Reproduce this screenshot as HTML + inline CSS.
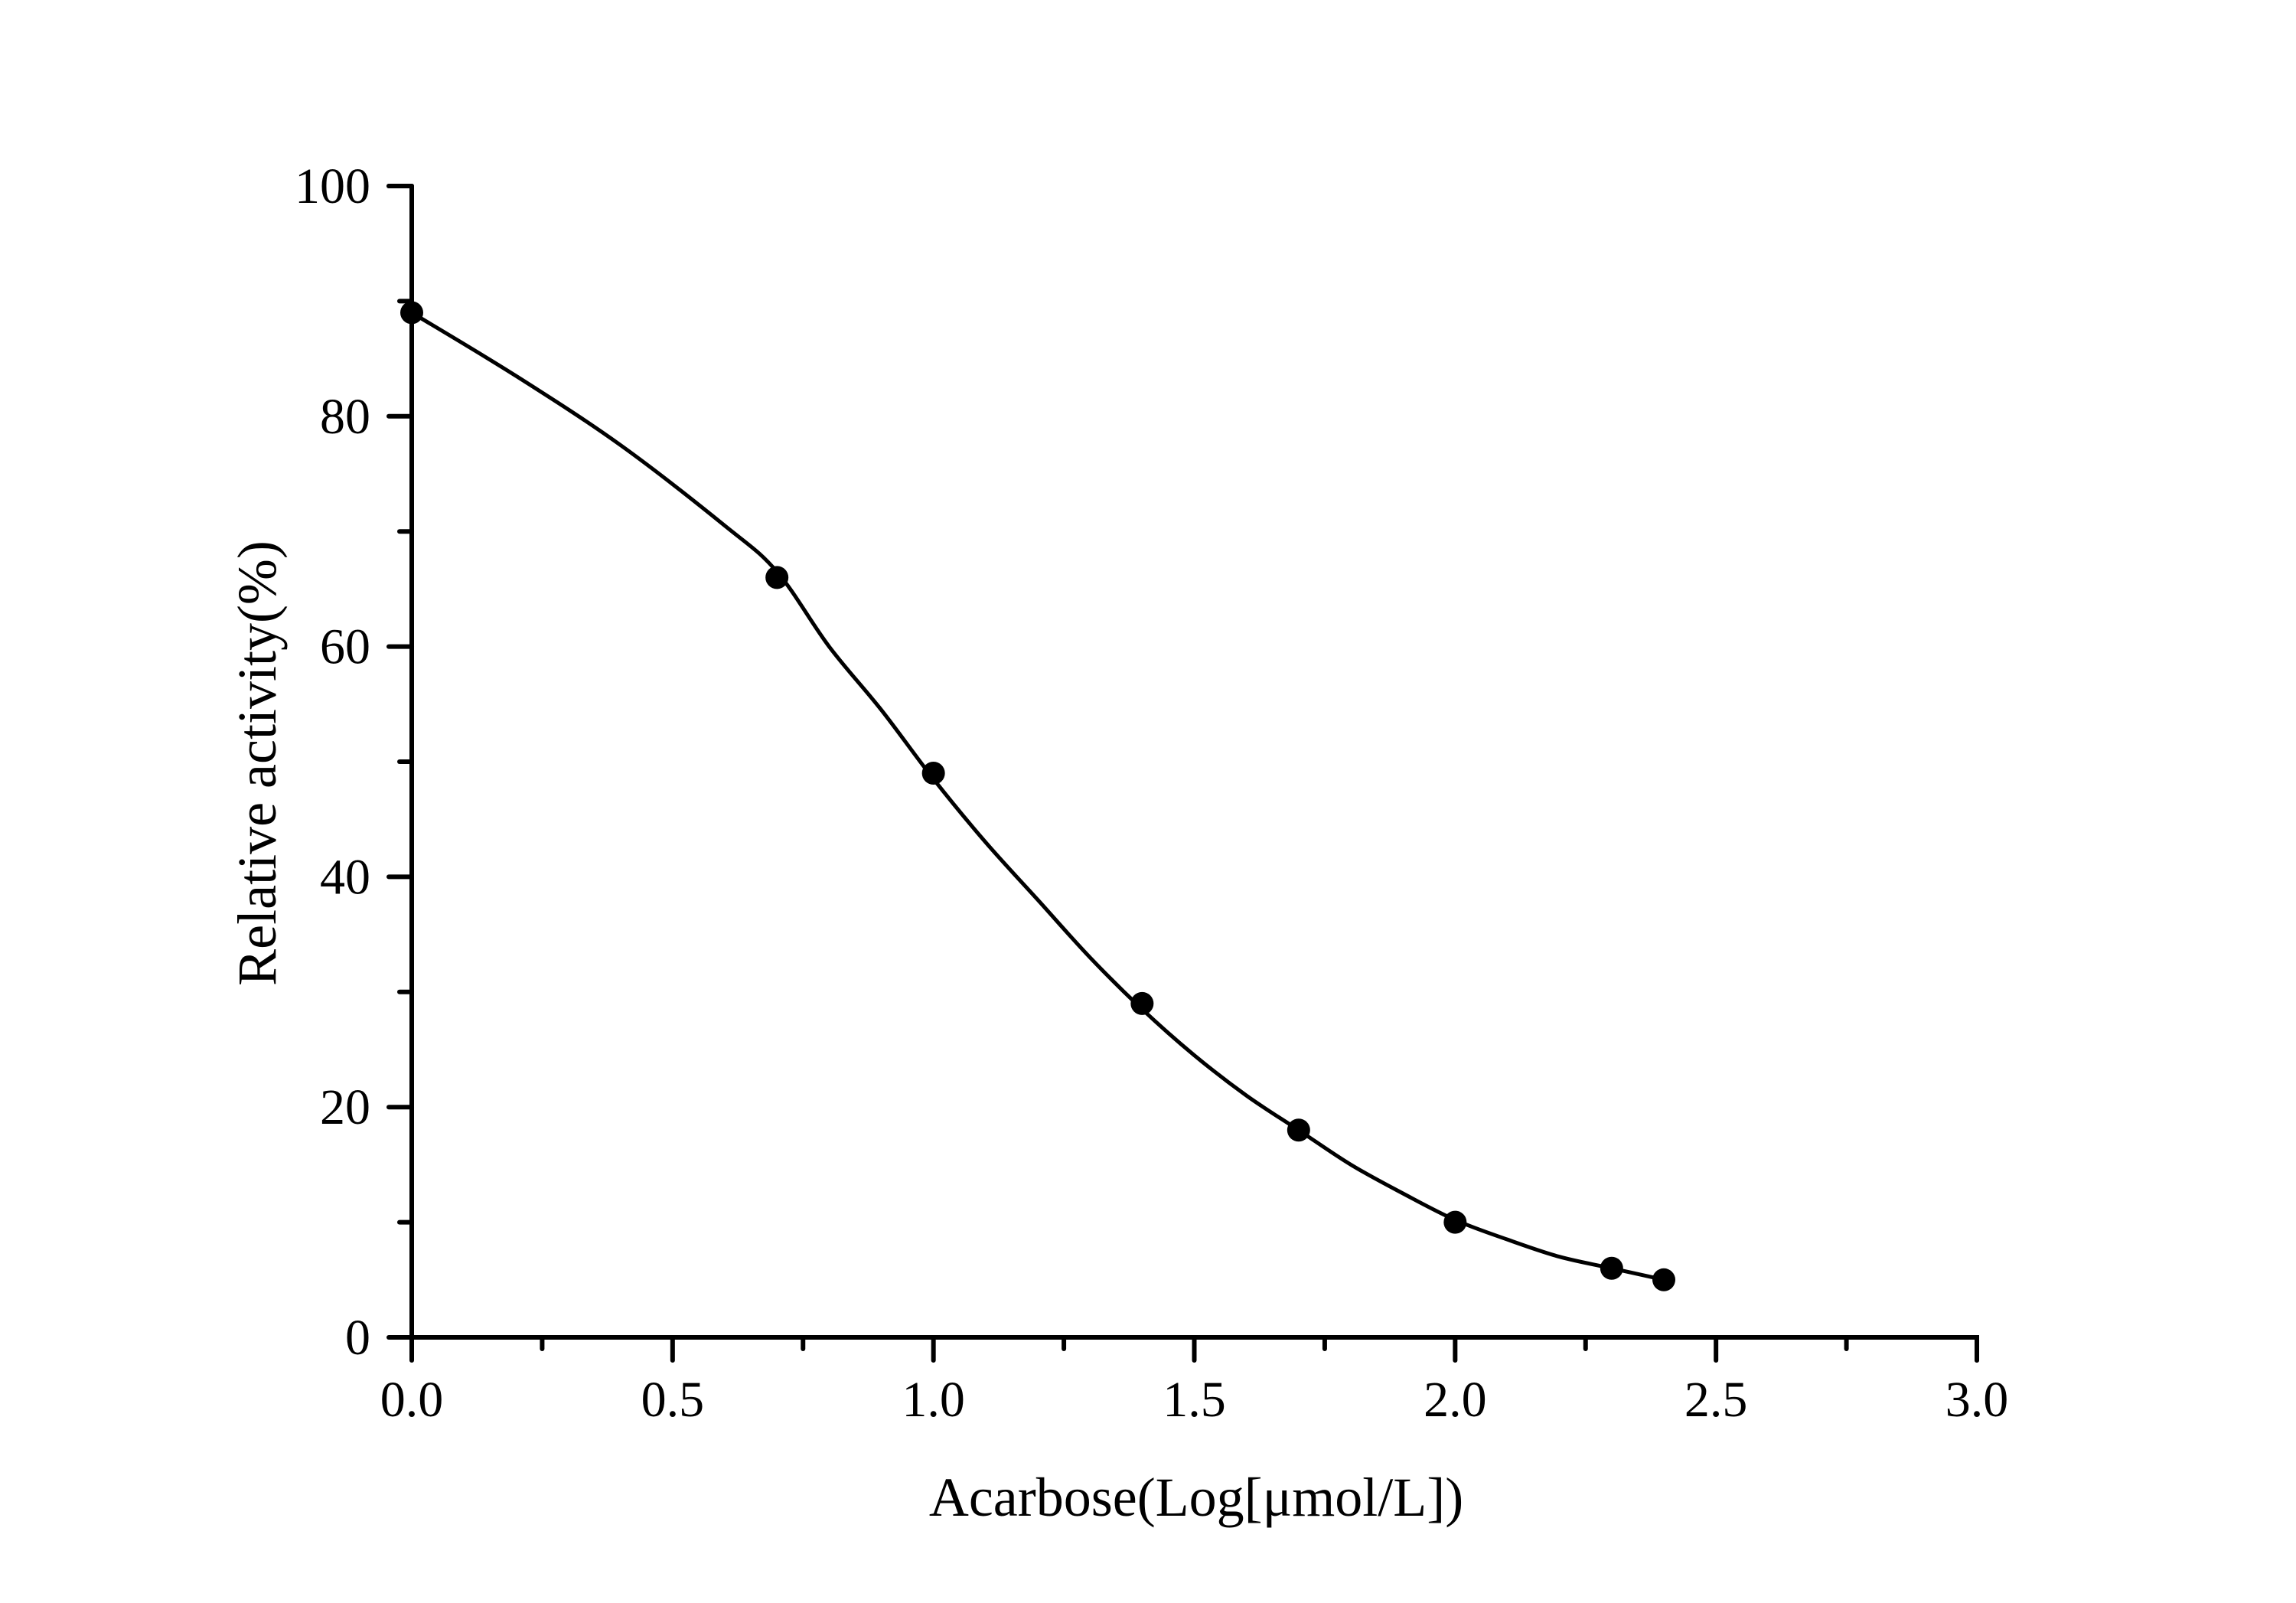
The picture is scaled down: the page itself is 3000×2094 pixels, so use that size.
<!DOCTYPE html>
<html><head><meta charset="utf-8"><style>
html,body{margin:0;padding:0;background:#fff;}
svg{display:block;font-family:"Liberation Serif",serif;}
</style></head><body>
<svg id="chart" width="3000" height="2094" viewBox="0 0 3000 2094" xmlns="http://www.w3.org/2000/svg">
<rect width="3000" height="2094" fill="#fff"/>
<g id="axes"></g>
<g id="plot"></g>
<text x="1563" y="1980" font-size="72" text-anchor="middle">Acarbose(Log[μmol/L])</text>
<text transform="translate(360,997) rotate(-90)" font-size="72" text-anchor="middle">Relative activity(%)</text>
</svg>
<script>
const pointX = [0, 0.7, 1.0, 1.4, 1.7, 2.0, 2.3, 2.4];
const pointY = [89, 66, 49, 29, 18, 10, 6, 5];
const curveX = [0, 0.2, 0.4, 0.6, 0.7, 0.8, 0.9, 1.0, 1.1, 1.2, 1.3, 1.4, 1.5, 1.6, 1.7, 1.8, 1.9, 2.0, 2.1, 2.2, 2.3, 2.4];
const curveY = [89, 83.5, 77.5, 70.5, 66.5, 60, 54.5, 48.5, 43, 38, 33, 28.5, 24.5, 21, 18, 15, 12.5, 10.2, 8.5, 7, 6, 5];
const xTicks = [0, 0.5, 1.0, 1.5, 2.0, 2.5, 3.0];
const xTickLabels = ["0.0", "0.5", "1.0", "1.5", "2.0", "2.5", "3.0"];
const yTicks = [0, 20, 40, 60, 80, 100];
const yTickLabels = ["0", "20", "40", "60", "80", "100"];

const X0 = 538, X1 = 2583, Y0 = 1747, Y1 = 243;
const xs = v => X0 + (v - 0) / 3 * (X1 - X0);
const ys = v => Y0 - (v - 0) / 100 * (Y0 - Y1);
const NS = "http://www.w3.org/2000/svg";
function mk(tag, attrs, parent) {
  const e = document.createElementNS(NS, tag);
  for (const k in attrs) e.setAttribute(k, attrs[k]);
  parent.appendChild(e);
  return e;
}
const axes = document.getElementById('axes');
const plot = document.getElementById('plot');
const st = {stroke: '#000', 'stroke-width': 6, 'stroke-linecap': 'round', fill: 'none'};

let a = mk('path', Object.assign({d: `M${X0},${Y1} L${X0},${Y0} L${X1},${Y0} L${X1},${Y0 + 30}`}, st), axes);


let t = mk('line', Object.assign({x1: X0 - 30, y1: Y1, x2: X0, y2: Y1}, st), axes);



xTicks.forEach((v, i) => {
  const x = xs(v);
  const l = mk('line', Object.assign({x1: x, y1: Y0, x2: x, y2: Y0 + 30}, st), axes);
  
  
  if (i < xTicks.length - 1) {
    const m = xs(v + 0.25);
    const ml = mk('line', Object.assign({x1: m, y1: Y0, x2: m, y2: Y0 + 15}, st), axes);
    
    
  }
  const tx = mk('text', {x: x, y: 1850, 'font-size': 66, 'text-anchor': 'middle'}, axes);
  tx.textContent = xTickLabels[i];
  
  
});
yTicks.forEach((v, i) => {
  const y = ys(v);
  const l = mk('line', Object.assign({x1: X0 - 30, y1: y, x2: X0, y2: y}, st), axes);
  
  
  if (i < yTicks.length - 1) {
    const m = ys(v + 10);
    const ml = mk('line', Object.assign({x1: X0 - 16, y1: m, x2: X0, y2: m}, st), axes);
    
    
  }
  const tx = mk('text', {x: 484, y: y + 22, 'font-size': 66, 'text-anchor': 'end'}, axes);
  tx.textContent = yTickLabels[i];
  
  
});

// smooth curve (catmull-rom)
const P = curveX.map((v, i) => [xs(v), ys(curveY[i])]);
let d = `M${P[0][0]},${P[0][1]}`;
for (let i = 0; i < P.length - 1; i++) {
  const p0 = P[Math.max(0, i - 1)], p1 = P[i], p2 = P[i + 1], p3 = P[Math.min(P.length - 1, i + 2)];
  const c1 = [p1[0] + (p2[0] - p0[0]) / 6, p1[1] + (p2[1] - p0[1]) / 6];
  const c2 = [p2[0] - (p3[0] - p1[0]) / 6, p2[1] - (p3[1] - p1[1]) / 6];
  d += ` C${c1[0]},${c1[1]} ${c2[0]},${c2[1]} ${p2[0]},${p2[1]}`;
}
const c = mk('path', {d: d, stroke: '#000', 'stroke-width': 5, fill: 'none'}, plot);


pointX.forEach((v, i) => {
  const p = mk('circle', {cx: xs(v), cy: ys(pointY[i]), r: 15, fill: '#000'}, plot);
  
  
});
</script>
</body></html>
